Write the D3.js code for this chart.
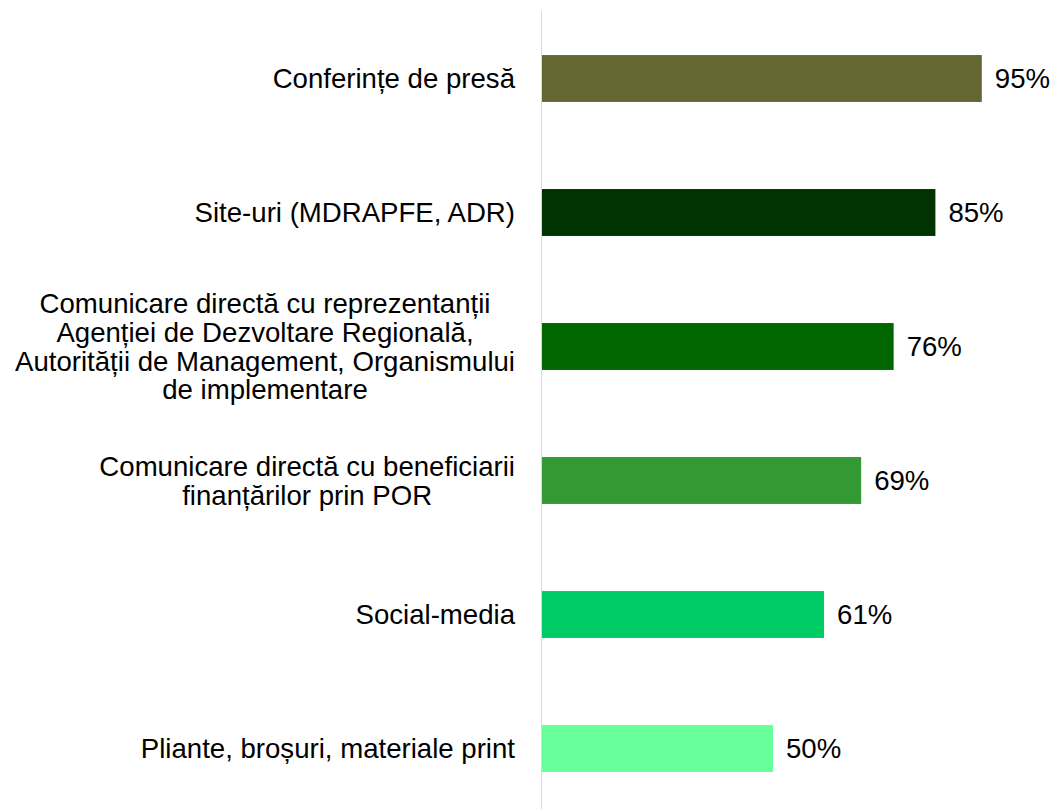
<!DOCTYPE html>
<html>
<head>
<meta charset="utf-8">
<script src="https://cdn.jsdelivr.net/npm/d3@7"></script>
<style>
  body { margin: 0; background: #fff; }
  svg { display: block; }
</style>
</head>
<body>
<div id="chart"></div>
<script>
// chart data
var categories = [
  ["Conferințe de presă"],
  ["Site-uri (MDRAPFE, ADR)"],
  ["Comunicare directă cu reprezentanții", "Agenției de Dezvoltare Regională,", "Autorității de Management, Organismului", "de implementare"],
  ["Comunicare directă cu beneficiarii", "finanțărilor prin POR"],
  ["Social-media"],
  ["Pliante, broșuri, materiale print"]
];
var values = [95, 85, 76, 69, 61, 50];
var colors = ["#666633", "#003300", "#006600", "#339933", "#00cc66", "#66ff99"];

var width = 1054, height = 809;
var axisX = 541, plotTop = 11, plotBottom = 809;
var fontSize = 27.6;

var svg = d3.select("#chart").append("svg")
  .attr("width", width)
  .attr("height", height)
  .style("font-family", "'Liberation Sans', Arial, sans-serif");

var x = d3.scaleLinear()
  .domain([0, 100])
  .range([axisX, axisX + 464]);

// band step ~134px, bars ~47px
var y = d3.scaleBand()
  .domain(d3.range(values.length))
  .range([11.5, 815.5])
  .paddingInner(0.65)
  .paddingOuter(0.325);

// bars
svg.append("g")
  .selectAll("rect")
  .data(values)
  .enter()
  .append("rect")
    .attr("x", x(0))
    .attr("y", function(d, i) { return y(i); })
    .attr("width", function(d) { return x(d) - x(0); })
    .attr("height", y.bandwidth())
    .attr("fill", function(d, i) { return colors[i]; });

// vertical axis line
svg.append("line")
  .attr("x1", axisX + 0.5).attr("x2", axisX + 0.5)
  .attr("y1", plotTop).attr("y2", plotBottom)
  .attr("stroke", "#d9d9d9")
  .attr("stroke-width", 1);

// value labels
svg.append("g")
  .selectAll("text")
  .data(values)
  .enter()
  .append("text")
    .attr("x", function(d) { return x(d) + 13; })
    .attr("y", function(d, i) { return y(i) + y.bandwidth() / 2; })
    .attr("dy", "0.35em")
    .style("font-size", fontSize + "px")
    .attr("fill", "#000")
    .text(function(d) { return d + "%"; });

// category labels: lines centred on each other, block right-aligned
var labelRight = 515, lineH = 28.7;
categories.forEach(function(lines, i) {
  var g = svg.append("g");
  var cy = y(i) + y.bandwidth() / 2;
  var texts = lines.map(function(s, j) {
    return g.append("text")
      .attr("y", cy + (j - (lines.length - 1) / 2) * lineH)
      .attr("dy", "0.35em")
      .attr("text-anchor", "middle")
      .style("font-size", fontSize + "px")
      .attr("fill", "#000")
      .text(s);
  });
  var maxW = d3.max(texts, function(t) { return t.node().getComputedTextLength(); });
  texts.forEach(function(t) { t.attr("x", labelRight - maxW / 2); });
});
</script>
</body>
</html>
